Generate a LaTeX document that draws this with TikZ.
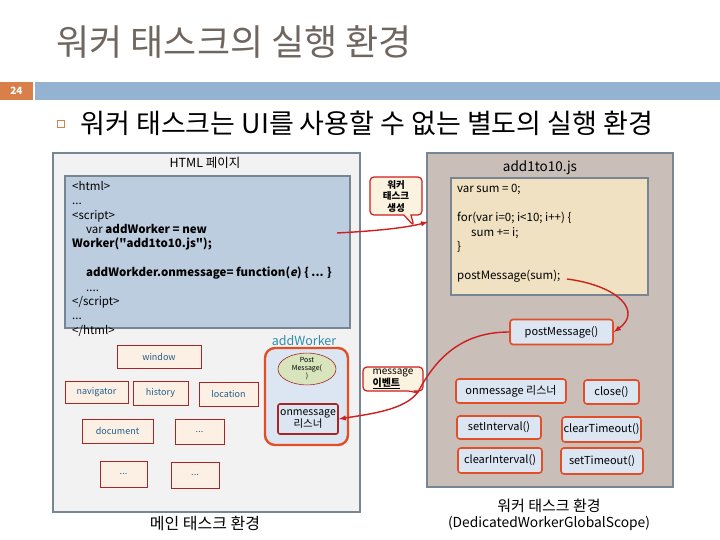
\documentclass[tikz,border=0pt]{standalone}
\usepackage{fontspec}
\setmainfont{Noto Sans CJK KR}
\usepackage{tikz}
\usetikzlibrary{arrows}
\usetikzlibrary{shapes.geometric,shapes.callouts}
\definecolor{titlegray}{RGB}{112,102,96}
\definecolor{barorange}{RGB}{217,128,74}
\definecolor{barblue}{RGB}{148,179,210}
\definecolor{pagegray}{RGB}{242,242,242}
\definecolor{framegray}{RGB}{120,133,146}
\definecolor{codeblue}{RGB}{189,205,224}
\definecolor{workerbrown}{RGB}{201,190,184}
\definecolor{codecream}{RGB}{239,225,193}
\definecolor{orred}{RGB}{226,78,38}
\definecolor{dkred}{RGB}{165,38,38}
\definecolor{peach}{RGB}{252,240,228}
\definecolor{objtext}{RGB}{30,95,140}
\definecolor{labelteal}{RGB}{45,140,175}
\definecolor{msgblue}{RGB}{220,230,242}
\definecolor{leafgreen}{RGB}{215,228,188}
\definecolor{arrred}{RGB}{208,30,30}
\definecolor{notecream}{RGB}{252,242,224}
\newcommand{\fs}[1]{\fontsize{#1}{#1}\selectfont}

\begin{document}
\begin{tikzpicture}[x=1pt, y=-1pt,
		panel/.style={draw=framegray, line width=1.6pt, inner sep=0},
		objbox/.style={draw=dkred, fill=peach, line width=0.9pt, text=objtext, font=\fs{9}, inner sep=0},
		fnbox/.style={draw=orred, fill=msgblue, line width=1.6pt, rounded corners=3pt, font=\fs{11}, inner sep=0},
		note/.style={rectangle callout, draw=arrred, fill=notecream, line width=1.2pt, rounded corners=4pt, inner sep=0},
		redarr/.style={draw=arrred, line width=1.4pt, -latex}]
	\useasboundingbox[fill=white] (0,0) rectangle (720,540);
	\node[text=titlegray, font=\fs{36}, anchor=west] (title) at (53,42) {워커 태스크의 실행 환경};
	\node[fill=barorange, minimum width=33, minimum height=18, inner sep=0, text=white, font=\fs{10}\bfseries] (page) at (16.5,91) {24};
	\draw[draw=none, fill=barblue] (35,82) rectangle (720,100);
	\node[draw=barorange, line width=1.2pt, minimum size=7, inner sep=0] (bullet) at (61,124) {};
	\node[font=\fs{27}, anchor=west] (lead) at (77,123) {워커 태스크는 UI를 사용할 수 없는 별도의 실행 환경};

	\node[panel, fill=pagegray, minimum width=307, minimum height=359] (html) at (206.5,332.5) {};
	\node[font=\fs{12.5}] (htmltitle) at (205,163) {HTML 페이지};
	\node[panel, fill=codeblue, line width=1.3pt, minimum width=285, minimum height=152] (hcode) at (207.5,252) {};
	\node[anchor=north west, align=left, inner sep=0, font=\fontsize{11.5}{14.4}\selectfont] (hlines) at (72,181) {<html>\\
		...\\
		<script>\\
		\hspace*{14pt}var \textbf{addWorker = new}\\
		\textbf{Worker(\textquotedbl add1to10.js\textquotedbl);}\\
		\mbox{}\\
		\hspace*{14pt}\textbf{addWorkder.onmessage= function({\addfontfeature{FakeSlant=0.2}e}) \{ ... \}}\\
		\hspace*{14pt}....\\
		</script>\\
		...\\
		</html>};

	\node[objbox, minimum width=84, minimum height=23] (window) at (159,356.5) {window};
	\node[objbox, minimum width=63, minimum height=22] (navigator) at (96.5,392) {navigator};
	\node[objbox, minimum width=55, minimum height=24] (history) at (160.5,393) {history};
	\node[objbox, minimum width=59, minimum height=24] (location) at (228.5,394) {location};
	\node[objbox, minimum width=71, minimum height=24] (document) at (117.5,431) {document};
	\node[objbox, minimum width=49, minimum height=25] (etc1) at (199.5,431.5) {...};
	\node[objbox, minimum width=47, minimum height=26] (etc2) at (123.5,474) {...};
	\node[objbox, minimum width=48, minimum height=26] (etc3) at (195,475) {...};

	\node[text=labelteal, font=\fs{12.5}] (wlabel) at (304,341) {addWorker};
	\node[draw=orred, fill=msgblue, line width=2.4pt, rounded corners=10pt, minimum width=83, minimum height=97] (wobj) at (306.5,396.5) {};
	\node[ellipse, draw=dkred, fill=leafgreen, line width=0.6pt, minimum width=58, minimum height=28, inner sep=0, align=center, font=\fontsize{7}{8}\selectfont] (wpost) at (307,369) {Post\\Message(\\)};
	\node[draw=dkred, line width=1.6pt, rounded corners=2pt, minimum width=60, minimum height=30, inner sep=0, align=center, font=\fontsize{10.5}{12}\selectfont] (wlisten) at (308,419) {onmessage\\리스너};
	\node[font=\fs{16}] (maincap) at (205,523) {메인 태스크 환경};

	\node[panel, fill=workerbrown, minimum width=246, minimum height=334] (worker) at (550,320) {};
	\node[font=\fs{13.5}] (jstitle) at (540,168) {add1to10.js};
	\node[panel, fill=codecream, line width=1.3pt, minimum width=197, minimum height=117] (jcode) at (549.5,236.5) {};
	\node[anchor=north west, align=left, inner sep=0, font=\fontsize{11.5}{14.5}\selectfont] (jlines) at (457,184) {var sum = 0;\\
		\mbox{}\\
		for(var i=0; i<10; i++) \{\\
		\hspace*{14pt}sum += i;\\
		\}\\
		\mbox{}\\
		postMessage(sum);};
	\node[fnbox, minimum width=103, minimum height=25] (postmsg) at (561.5,332) {postMessage()};
	\node[fnbox, minimum width=110, minimum height=24] (onmsg) at (511,391) {onmessage 리스너};
	\node[fnbox, minimum width=55, minimum height=24] (close) at (611.5,392) {close()};
	\node[fnbox, minimum width=84, minimum height=23] (setint) at (499,427.5) {setInterval()};
	\node[fnbox, minimum width=79, minimum height=25] (cleartime) at (601.5,429.5) {clearTimeout()};
	\node[fnbox, minimum width=84, minimum height=25] (clearint) at (500,460.5) {clearInterval()};
	\node[fnbox, minimum width=82, minimum height=26] (settime) at (602,461) {setTimeout()};
	\node[font=\fs{13.8}, align=center] (workcap) at (549,515) {{\fs{15}워커 태스크 환경}\\[2pt](DedicatedWorkerGlobalScope)};

	\node[note, minimum width=52, minimum height=38, align=center, font=\fontsize{9.5}{11.5}\selectfont\bfseries, callout absolute pointer={(414,226)}] (newnote) at (396,196) {워커\\태스크\\생성};
	\node[note, minimum width=60, minimum height=24, align=left, font=\fontsize{10}{12}\selectfont, callout absolute pointer={(419,393)}] (evnote) at (393,379) {message\\\underline{\textbf{이벤트}}};

	\coordinate (newfrom) at (337,233);
	\coordinate (newto) at (428,222);
	\coordinate (sumend) at (567,279);
	\coordinate (evpt) at (418,392);
	\draw[redarr] (newfrom) .. controls (375,231) and (405,228) .. (newto);
	\draw[redarr] (sumend) .. controls (620,286) and (642,312) .. (postmsg.east);
	\draw[redarr] (postmsg.west) .. controls (460,332) and (435,360) .. (evpt) .. controls (405,410) and (370,414) .. (wlisten.east);
\end{tikzpicture}
\end{document}
